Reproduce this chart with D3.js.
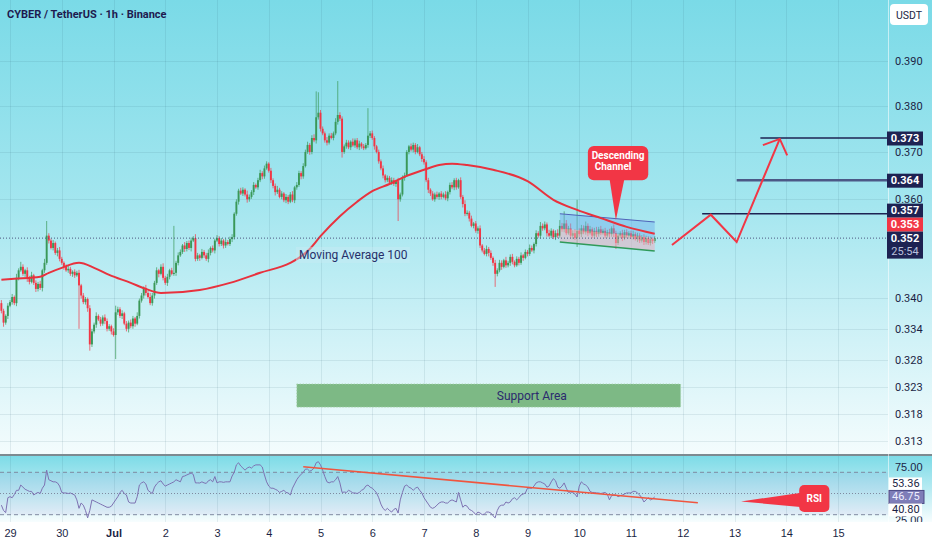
<html>
<head>
<meta charset="utf-8">
<style>
  body { margin:0; background:#ffffff; }
  svg { display:block; font-family: Roboto, "Noto Sans", sans-serif; }
</style>
</head>
<body>
<svg id="chart"></svg>
<script src="https://d3js.org/d3.v7.min.js"></script>
<script>

// hourly candles, hour 0 = Jun 29 00:00, first candle is hour -4
var firstHour = -4
var firstOpen = 3390
// closes, price x 10000
var closes = [
 3375,3352,3365,3385,
 3392,3402,3390,3440,3455,3462,3448,3455,3440,3432,
 3445,3430,3418,3428,3420,3455,3470,3525,3515,3500,
 3510,3490,3495,3478,3470,3462,3455,3458,3448,3452,
 3445,3450,3425,3405,3392,3398,3380,3310,3335,3348,
 3365,3358,3350,3362,3355,3340,3345,3335,3328,3372,
 3378,3365,3370,3350,3340,3352,3345,3360,3350,3365,
 3395,3405,3420,3410,3402,3390,3405,3430,3455,3448,
 3462,3440,3430,3442,3455,3448,3450,3470,3485,3492,
 3505,3498,3510,3500,3515,3520,3478,3485,3480,3492,
 3485,3478,3490,3500,3495,3515,3520,3508,3515,3505,
 3512,3508,3518,3522,3570,3595,3618,3612,3620,3610,
 3600,3605,3615,3630,3625,3640,3655,3648,3665,3675,
 3660,3640,3628,3615,3620,3605,3612,3598,3605,3595,
 3610,3598,3625,3630,3655,3648,3670,3700,3715,3700,
 3730,3725,3775,3785,3750,3740,3725,3720,3735,3730,
 3740,3765,3780,3772,3700,3712,3720,3710,3722,3714,
 3725,3710,3718,3712,3708,3715,3735,3740,3730,3712,
 3700,3680,3665,3650,3640,3645,3635,3640,3632,3638,
 3600,3610,3645,3650,3700,3712,3705,3715,3700,3710,
 3695,3685,3678,3640,3620,3612,3600,3610,3605,3612,
 3605,3610,3602,3615,3630,3625,3640,3625,3640,3605,
 3590,3570,3572,3560,3545,3550,3535,3540,3505,3495,
 3488,3498,3490,3480,3470,3448,3455,3470,3462,3475,
 3465,3470,3482,3472,3465,3478,3470,3485,3480,3492,
 3488,3500,3495,3508,3530,3525,3545,3540,3548,3530,
 3525,3535,3522,3530,3525,3545,3538,3550,3530,3540,
 3525,3530,3520,3535,3528,3540,3532,3545,3530,3538,
 3525,3535,3528,3538,3530,3535,3525,3532,3528,3540,
 3530,3510,3525,3530,3520,3532,3525,3530,3522,3528,
 3518,3525,3515,3522,3512,3520,3510,3518,3514,3520
]
// wick length above / below the body, same units
var wickUp = [
 6,4,3,5,4,6,3,8,4,10, 5,3,6,4,7,3,5,4,6,3, 8,30,5,4,6,3,5,7,4,3,
 5,6,4,3,5,4,6,3,5,4, 3,6,5,4,7,3,5,4,6,5, 4,3,6,13,5,4,6,3,5,4,
 6,5,3,7,4,5,3,6,4,8, 5,4,6,3,5,7,4,6,3,5, 95,4,6,5,3,7,4,5,6,4,
 8,5,3,6,4,5,7,3,5,4, 6,4,5,3,7,4,5,6,3,5, 4,6,5,3,8,5,4,6,3,5,
 7,4,6,5,3,6,4,5,8,4, 5,3,6,4,5,7,3,6,5,4, 6,5,7,4,6,8,57,45,6,5,
 4,7,5,6,4,8,75,6,5,4, 6,5,3,7,4,5,6,3,5,4, 60,5,6,4,3,5,4,6,3,5,
 4,6,5,3,7,4,5,6,4,3, 6,5,4,7,3,5,6,4,5,3, 5,4,6,3,5,4,7,3,5,6,
 4,5,3,6,4,8,5,4,6,3, 5,4,6,3,5,7,4,5,3,6, 4,6,5,3,7,4,5,6,3,5,
 4,6,3,5,4,7,5,3,6,4, 8,5,6,4,7,5,3,6,8,12, 6,25,7,5,10,6,8,64,5,7,
 6,9,5,7,4,6,8,5,7,4, 6,5,7,4,8,5,6,4,7,5, 6,4,5,7,4,6,5,4,6,5,
 4,5,3,4
]
var wickDown = [
 5,8,4,6,3,5,4,6,5,3, 4,6,8,5,3,4,6,5,4,7, 5,4,6,3,5,4,7,5,4,6,
 3,5,4,6,5,3,85,6,4,5, 7,12,5,4,6,3,5,4,6,5, 4,6,3,46,5,4,6,3,5,7,
 4,5,6,3,5,4,6,5,3,4, 5,6,4,7,3,5,4,6,5,3, 4,6,5,3,4,6,5,4,7,3,
 5,4,6,3,5,4,7,5,4,6, 3,5,4,6,5,3,4,6,5,4, 6,3,5,4,7,5,4,6,3,5,
 4,6,5,3,4,6,5,7,4,3, 5,4,6,5,3,4,6,5,4,6, 5,3,4,6,5,4,7,5,6,4,
 5,6,4,3,5,4,6,5,12,4, 5,4,6,3,5,4,6,5,4,3, 6,5,4,7,3,5,4,6,5,4,
 3,5,4,6,45,5,4,6,3,5, 4,6,5,3,4,6,5,4,7,5, 3,5,4,6,5,3,4,6,5,4,
 6,5,3,4,7,5,4,6,3,5, 4,6,5,4,3,5,7,4,6,26, 5,4,6,3,5,4,6,5,4,3,
 5,4,6,3,5,4,3,6,5,4, 6,5,4,7,3,5,4,6,5,4, 5,6,4,3,5,7,4,18,5,6,
 4,5,6,3,5,4,6,5,4,3, 5,4,6,5,8,12,4,5,6,4, 5,6,4,5,3,6,5,4,6,5,
 4,5,6,4
]
// RSI 14, one value per candle
var rsiValues = [
 39,34,32,46,
 47,46,49,53,53,58,56,54,53,52,
 52,48.6,50,51,50,55,58,72,63,62,
 61,61,60,57,51,50.5,50.5,50,50.5,49.5,
 48.6,44,36,41,39,34,27,34,44,43,
 42,41,40,39,38,37,37,38,41,44,
 47,51,53,50,48.6,42,41,41,41,47,
 58,60,61,59,53,51.4,50,56,59,61,
 62,59,57,58,59,60,61,63,62,61,
 66,66.5,67.5,68.4,69.3,68,60,60,59.9,61,
 60,59.5,62,63,61,66,60,61,61,60.5,
 61,61,61,66.5,70,77,79,76,74,72,
 74,75,74,76,77,77,77,75,67.5,61,
 57,55,55,54,53,51,52,53,51,50.5,
 48.6,55,59,63,66,68,70,73,73,71,
 72,74,79,80,77,72,66,61,60,61,
 61,63,66,60,51,51.4,51,53,52,50.5,
 50.5,50,51,53,54,57,58,56,55,53,
 50.5,46,40,36,34,36,34,32.5,35,36,
 31.6,44,51,57,58,56,55,53,55,56,
 53,50.5,46,43,40,37,36,37,39,41,
 42,42,41,41,43,44,43,42,51,44,
 37,39,38,35,34,32.5,30,32.5,31.6,30,
 30.6,32.5,32.5,31.6,29,27,34,38,39,39,
 42,41,42,45,46,44,46,48.6,49.5,50.5,
 55,55,55,57,60,61,61,60,59,56,
 57,61,64,62,56,55,57,60,55,51,
 51.4,51,49.5,46.7,57,61,59,58,56,52,
 51,51,50.5,50.5,50,50.5,51,49.5,44,48,
 48.6,48.6,47,48,48.6,49.5,50.5,50.5,50.5,52,
 52,50.5,48.6,46,42,44,46,44,45,46.75
]
// moving average 100
var maHours = [-4,2,14,18,24,32,39,46,56,63,70,88,102,116,130,134,139,144,153,161,168,176,184,192,199,205,212,224,240,252,263,274,286,299]
var maValues = [0.3436,0.3438,0.3442,0.3450,0.3460,0.3470,0.3460,0.3446,0.3430,0.3418,0.3410,0.3416,0.3430,0.3450,0.3470,0.3480,0.3498,0.3524,0.3565,0.3595,0.3617,0.3632,0.3649,0.3662,0.3672,0.3675,0.3672,0.3662,0.3638,0.3599,0.3578,0.3561,0.3543,0.3529]

var priceTicks = [0.390,0.380,0.370,0.360,0.340,0.334,0.328,0.323,0.318,0.313]
var dayTicks = [0,1,2,3,4,5,6,7,8,9,10,11,12,13,14,15,16]
var dayLabels = ["29","30","Jul","2","3","4","5","6","7","8","9","10","11","12","13","14","15"]
var rsiTicks = [75,25]
var rsiBands = [70,50,30]

// drawings
var levelPrices = [0.373,0.364,0.357]
var levelStartHours = [348,337,321]
var arrowHours = [307,325,337,357]
var arrowPrices = [0.3506,0.3568,0.3512,0.3728]
var supportHours = [133,311]
var supportPrices = [0.3235,0.3192]
var channelHours = [255,299]
var channelTop = [0.3570,0.3553]
var channelMid = [0.3540,0.3520]
var channelBottom = [0.3512,0.3494]
var rsiTrendHours = [136,319]
var rsiTrendValues = [75.2,41.3]
var lastPrice = 0.352
var lastMa = 0.353
var rsiLabelValues = [53.36,46.75,40.80]

var W = 932, H = 550
var axisX = 888
var mainBottom = 454
var rsiTop = 456, rsiBottom = 522

var navy = "#1d2252"
var red = "#f23645"
var green = "#3a9858"
var textCol = "#1b1f45"

var x = d3.scaleLinear().domain([0,384]).range([10,838])
var y = d3.scaleLog().domain([0.313,0.390]).range([441,61])
var yr = d3.scaleLinear().domain([25,75]).range([520,467])

var svg = d3.select("#chart").attr("width",W).attr("height",H)
var defs = svg.append("defs")

var addGradient = function(id,stops)
{
    var gr = defs.append("linearGradient").attr("id",id)
        .attr("x1",0).attr("y1",0).attr("x2",0).attr("y2",1)
    stops.forEach(function(s){
        gr.append("stop").attr("offset",s[0]).attr("stop-color",s[1])
    })
}
addGradient("bgMain",[[0,"#7adae7"],[0.45,"#a4e6ef"],[0.75,"#d1f2f7"],[1,"#f4fcfd"]])
addGradient("bgRsi",[[0,"#7ddbe7"],[0.5,"#b7ebf2"],[1,"#f7fdfe"]])

defs.append("clipPath").attr("id","clipMain").append("rect")
    .attr("x",0).attr("y",0).attr("width",axisX).attr("height",mainBottom)
defs.append("clipPath").attr("id","clipRsi").append("rect")
    .attr("x",0).attr("y",rsiTop).attr("width",W).attr("height",rsiBottom-rsiTop)

// backgrounds
svg.append("rect").attr("x",0).attr("y",0).attr("width",W).attr("height",mainBottom+1)
    .attr("fill","url(#bgMain)")
svg.append("rect").attr("x",0).attr("y",rsiTop).attr("width",W).attr("height",rsiBottom-rsiTop)
    .attr("fill","url(#bgRsi)")
svg.append("rect").attr("x",0).attr("y",rsiBottom).attr("width",W).attr("height",H-rsiBottom)
    .attr("fill","#ffffff")

// grid
var grid = svg.append("g").attr("stroke","rgba(40,90,110,0.10)").attr("stroke-width",1)
grid.selectAll("line.h").data(priceTicks).enter().append("line")
    .attr("x1",0).attr("x2",axisX)
    .attr("y1",function(d){return Math.round(y(d))+0.5})
    .attr("y2",function(d){return Math.round(y(d))+0.5})
grid.selectAll("line.v").data(dayTicks).enter().append("line")
    .attr("x1",function(d){return Math.round(x(d*24))+0.5})
    .attr("x2",function(d){return Math.round(x(d*24))+0.5})
    .attr("y1",0).attr("y2",rsiBottom)

// pane separator and axis separator
svg.append("rect").attr("x",0).attr("y",mainBottom).attr("width",W).attr("height",2).attr("fill","#7d8a90")
svg.append("line").attr("x1",axisX+0.5).attr("x2",axisX+0.5).attr("y1",0).attr("y2",rsiBottom)
    .attr("stroke","rgba(255,255,255,0.55)")

// support area
var sup = svg.append("g")
sup.append("rect")
    .attr("x",x(supportHours[0])).attr("width",x(supportHours[1])-x(supportHours[0]))
    .attr("y",y(supportPrices[0])).attr("height",y(supportPrices[1])-y(supportPrices[0]))
    .attr("fill","#7db985").attr("stroke","#a9d3b0").attr("stroke-dasharray","1,2")
sup.append("text").text("Support Area")
    .attr("x",x(242)).attr("y",(y(supportPrices[0])+y(supportPrices[1]))/2)
    .attr("text-anchor","middle").attr("dominant-baseline","central")
    .attr("font-size",12).attr("fill","#2b2a6e")

// candles
var candles = closes.map(function(c,i)
{
    var o = i == 0 ? firstOpen : closes[i-1]
    return {
        h: firstHour+i,
        o: o/10000,
        c: c/10000,
        hi: (Math.max(o,c)+wickUp[i])/10000,
        lo: (Math.min(o,c)-wickDown[i])/10000
    }
})

var cg = svg.append("g").attr("clip-path","url(#clipMain)")
cg.selectAll("line.wick").data(candles).enter().append("line")
    .attr("x1",function(d){return x(d.h)}).attr("x2",function(d){return x(d.h)})
    .attr("y1",function(d){return y(d.hi)}).attr("y2",function(d){return y(d.lo)})
    .attr("stroke",function(d){return d.c >= d.o ? green : red})
    .attr("stroke-opacity",0.7).attr("stroke-width",1)
cg.selectAll("rect.body").data(candles).enter().append("rect")
    .attr("x",function(d){return x(d.h)-0.95}).attr("width",1.9)
    .attr("y",function(d){return y(Math.max(d.o,d.c))})
    .attr("height",function(d){return Math.max(1.2,Math.abs(y(d.o)-y(d.c)))})
    .attr("fill",function(d){return d.c >= d.o ? green : red})

// channel
var chan = svg.append("g")
var poly = function(a,b)
{
    return [[x(channelHours[0]),y(a[0])],[x(channelHours[1]),y(a[1])],
            [x(channelHours[1]),y(b[1])],[x(channelHours[0]),y(b[0])]]
}
chan.append("polygon").attr("points",poly(channelTop,channelMid).join(" "))
    .attr("fill","rgba(110,175,235,0.45)")
chan.append("polygon").attr("points",poly(channelMid,channelBottom).join(" "))
    .attr("fill","rgba(235,175,190,0.55)")
chan.append("line")
    .attr("x1",x(channelHours[0])).attr("y1",y(channelTop[0]))
    .attr("x2",x(channelHours[1])).attr("y2",y(channelTop[1]))
    .attr("stroke","#4f63b8").attr("stroke-width",1.2)
chan.append("line")
    .attr("x1",x(channelHours[0])).attr("y1",y(channelBottom[0]))
    .attr("x2",x(channelHours[1])).attr("y2",y(channelBottom[1]))
    .attr("stroke","#2f9a5a").attr("stroke-width",1.5)

// moving average
var maLine = d3.line()
    .x(function(d){return x(d[0])})
    .y(function(d){return y(d[1])})
    .curve(d3.curveMonotoneX)
svg.append("path").datum(d3.zip(maHours,maValues))
    .attr("d",maLine).attr("fill","none").attr("stroke","#e8323e").attr("stroke-width",2)

svg.append("rect").attr("x",x(134)-3).attr("y",y(0.3486)-8).attr("width",114).attr("height",16)
    .attr("fill","rgba(200,235,245,0.45)")
svg.append("text").text("Moving Average 100")
    .attr("x",x(134)).attr("y",y(0.3486)).attr("dominant-baseline","central")
    .attr("font-size",12).attr("fill","#26306a")

// last price dotted line
svg.append("line").attr("x1",0).attr("x2",axisX)
    .attr("y1",y(lastPrice)).attr("y2",y(lastPrice))
    .attr("stroke","#4a5880").attr("stroke-dasharray","1,2")

// target levels
levelPrices.forEach(function(p,i)
{
    svg.append("line")
        .attr("x1",x(levelStartHours[i])).attr("x2",axisX)
        .attr("y1",y(p)).attr("y2",y(p))
        .attr("stroke",i == 1 ? "#4c5886" : navy)
        .attr("stroke-width",i == 1 ? 2.5 : 1.5)
})

// projected path arrow
var arrowPts = d3.zip(arrowHours,arrowPrices).map(function(d){return [x(d[0]),y(d[1])]})
svg.append("path").attr("d",d3.line()(arrowPts))
    .attr("fill","none").attr("stroke",red).attr("stroke-width",2).attr("stroke-linejoin","miter")
var tip = arrowPts[3], prev = arrowPts[2]
var back = Math.atan2(prev[1]-tip[1],prev[0]-tip[0])
var head = [back+0.82,back-0.82].map(function(a){return [tip[0]+18*Math.cos(a),tip[1]+18*Math.sin(a)]})
svg.append("path").attr("d",d3.line()([head[0],tip,head[1]]))
    .attr("fill","none").attr("stroke",red).attr("stroke-width",2)

// callout: Descending Channel
var cb = {x0:x(268),x1:x(296),y0:y(0.3713),y1:y(0.3640)}
svg.append("path")
    .attr("d",d3.line()([[x(278),cb.y1-2],[x(281),y(0.3557)],[x(285),cb.y1-2]]))
    .attr("fill",red)
svg.append("rect").attr("x",cb.x0).attr("y",cb.y0).attr("width",cb.x1-cb.x0).attr("height",cb.y1-cb.y0)
    .attr("rx",6).attr("fill",red)
svg.append("text").attr("x",(cb.x0+cb.x1)/2).attr("y",cb.y0+13)
    .attr("text-anchor","middle").attr("font-size",10).attr("fill","#ffffff").attr("font-weight","bold")
    .selectAll("tspan").data(["Descending","Channel"]).enter().append("tspan")
    .attr("x",(cb.x0+cb.x1)/2).attr("dy",function(d,i){return i ? 11 : 0})
    .attr("dx",function(d,i){return i ? -5 : 0})
    .text(function(d){return d})

// RSI pane
var rg = svg.append("g")
rg.append("rect").attr("x",0).attr("width",axisX)
    .attr("y",yr(70)).attr("height",yr(30)-yr(70))
    .attr("fill","rgba(126,87,194,0.08)")
rg.selectAll("line.band").data(rsiBands).enter().append("line")
    .attr("x1",0).attr("x2",axisX)
    .attr("y1",function(d){return yr(d)}).attr("y2",function(d){return yr(d)})
    .attr("stroke","#7f8aa0").attr("stroke-width",1)
    .attr("stroke-dasharray",function(d){return d == 50 ? "1,2" : "4,3"})

var rsiLine = d3.line()
    .x(function(d,i){return x(firstHour+i)})
    .y(function(d){return yr(d)})
rg.append("path").datum(rsiValues).attr("d",rsiLine)
    .attr("fill","none").attr("stroke","#7d72b2").attr("stroke-width",1)

rg.append("line")
    .attr("x1",x(rsiTrendHours[0])).attr("y1",yr(rsiTrendValues[0]))
    .attr("x2",x(rsiTrendHours[1])).attr("y2",yr(rsiTrendValues[1]))
    .attr("stroke","#f0553f").attr("stroke-width",1.6)

// callout: RSI
var rb = {x0:x(366),x1:x(380),y0:yr(58),y1:yr(32.5)}
rg.append("path")
    .attr("d",d3.line()([[x(339),yr(42.5)],[rb.x0+4,yr(51)],[rb.x0+4,yr(37)]]))
    .attr("fill",red)
rg.append("rect").attr("x",rb.x0).attr("y",rb.y0).attr("width",rb.x1-rb.x0).attr("height",rb.y1-rb.y0)
    .attr("rx",5).attr("fill",red)
rg.append("text").text("RSI").attr("x",(rb.x0+rb.x1)/2).attr("y",(rb.y0+rb.y1)/2)
    .attr("text-anchor","middle").attr("dominant-baseline","central")
    .attr("font-size",10).attr("font-weight","bold").attr("fill","#ffffff")

// price axis
var priceAxis = svg.append("g").attr("transform","translate("+(axisX+4)+",0)")
    .call(d3.axisRight(y).tickValues(priceTicks).tickFormat(d3.format(".3f")).tickSize(0))
priceAxis.select(".domain").remove()
priceAxis.selectAll("text").attr("font-size",11).attr("fill",textCol)
    .attr("font-family","Roboto, sans-serif")

// price labels on the axis, pushed apart like the app does
var tags = [
    {v:0.373, fill:navy, col:"#ffffff", h:14},
    {v:0.364, fill:navy, col:"#ffffff", h:14},
    {v:0.357, fill:navy, col:"#ffffff", h:14},
    {v:lastMa, fill:red, col:"#ffffff", h:14},
    {v:lastPrice, fill:navy, col:"#ffffff", h:27, timer:"25:54"}
]
tags.forEach(function(t){ t.top = y(t.v)-6.5 })
for (var i = tags.length-2; i >= 0; i--)
{
    if (tags[i].top+tags[i].h > tags[i+1].top) tags[i].top = tags[i+1].top-tags[i].h
}
var tg = svg.append("g")
tags.forEach(function(t)
{
    tg.append("rect").attr("x",axisX-1).attr("y",t.top).attr("width",36).attr("height",t.h)
        .attr("fill",t.fill)
    tg.append("text").text(d3.format(".3f")(t.v))
        .attr("x",axisX+17).attr("y",t.top+7).attr("text-anchor","middle")
        .attr("dominant-baseline","central").attr("font-size",11).attr("font-weight","bold")
        .attr("fill",t.col)
    if (t.timer)
        tg.append("text").text(t.timer)
            .attr("x",axisX+17).attr("y",t.top+20).attr("text-anchor","middle")
            .attr("dominant-baseline","central").attr("font-size",11).attr("fill","#b9c0dc")
})

// rsi axis
var rsiAxis = svg.append("g").attr("transform","translate("+(axisX+4)+",0)")
    .attr("clip-path","url(#clipRsi)")
    .call(d3.axisRight(yr).tickValues(rsiTicks).tickFormat(d3.format(".2f")).tickSize(0))
rsiAxis.select(".domain").remove()
rsiAxis.selectAll("text").attr("font-size",11).attr("fill",textCol)

var rtags = rsiLabelValues.map(function(v,i){
    return {v:v, top:yr(v)-6.5, h:13, main:i == 1}
})
if (rtags[0].top+13 > rtags[1].top) rtags[0].top = rtags[1].top-13
if (rtags[2].top < rtags[1].top+13) rtags[2].top = rtags[1].top+13
rtags.forEach(function(t)
{
    svg.append("rect").attr("x",axisX+1).attr("y",t.top).attr("width",t.main ? 35 : 33).attr("height",t.h)
        .attr("fill",t.main ? "#7e7db8" : "#ffffff")
        .attr("stroke",t.main ? "#4c4a86" : "none")
    svg.append("text").text(d3.format(".2f")(t.v))
        .attr("x",axisX+4).attr("y",t.top+6.5).attr("dominant-baseline","central")
        .attr("font-size",11).attr("fill",t.main ? "#eeeeff" : textCol)
})

// time axis
var timeAxis = svg.append("g").attr("transform","translate(0,"+(rsiBottom+4)+")")
    .call(d3.axisBottom(x).tickValues(dayTicks.map(function(d){return d*24}))
        .tickFormat(function(d,i){return dayLabels[i]}).tickSize(0))
timeAxis.select(".domain").remove()
timeAxis.selectAll("text").attr("font-size",11).attr("fill",textCol)
    .attr("font-weight",function(d,i){return dayLabels[i] == "Jul" ? "bold" : "normal"})

// header
svg.append("text").text("CYBER / TetherUS \u00b7 1h \u00b7 Binance")
    .attr("x",7).attr("y",18).attr("font-size",11).attr("font-weight","bold").attr("fill","#1e1a4f")

svg.append("rect").attr("x",890).attr("y",4).attr("width",38).attr("height",21).attr("rx",4)
    .attr("fill","#ffffff")
svg.append("text").text("USDT").attr("x",909).attr("y",15).attr("text-anchor","middle")
    .attr("dominant-baseline","central").attr("font-size",10.5).attr("fill",textCol)

</script>
</body>
</html>
